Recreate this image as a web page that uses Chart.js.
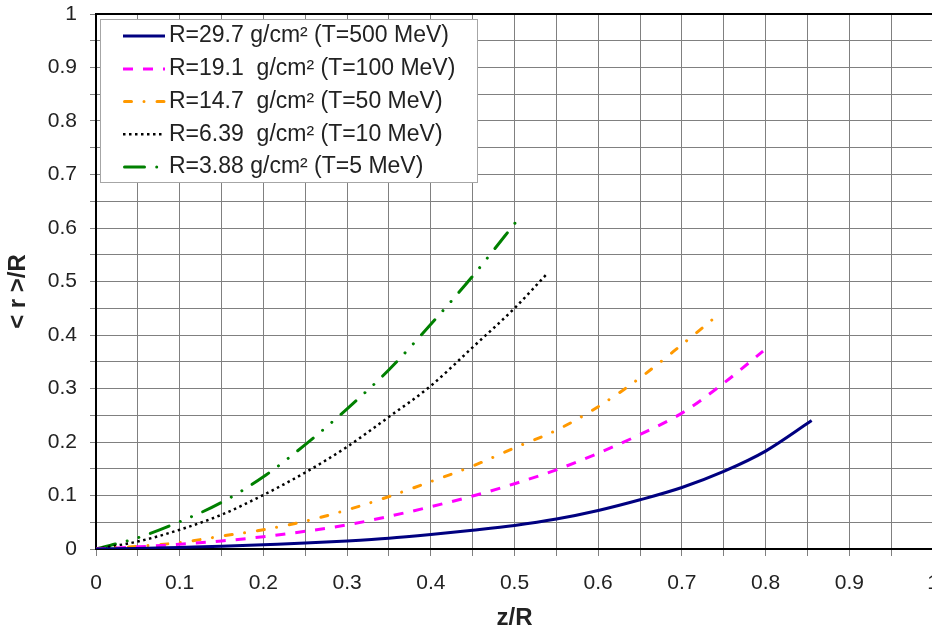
<!DOCTYPE html>
<html>
<head>
<meta charset="utf-8">
<script src="https://cdn.jsdelivr.net/npm/chart.js@4/dist/chart.umd.min.js"></script>
<style>
  html, body { margin: 0; padding: 0; background: #fff; overflow: hidden; }
  #wrap { width: 932px; height: 628px; overflow: hidden; }
</style>
</head>
<body>
<div id="wrap"><canvas id="c" width="950" height="628"></canvas></div>
<script>
// values
const seriesNames = [
  'R=29.7 g/cm\u00B2 (T=500 MeV)',
  'R=19.1  g/cm\u00B2 (T=100 MeV)',
  'R=14.7  g/cm\u00B2 (T=50 MeV)',
  'R=6.39  g/cm\u00B2 (T=10 MeV)',
  'R=3.88 g/cm\u00B2 (T=5 MeV)'
];
const zNavy = [0, 0.05, 0.1, 0.15, 0.2, 0.25, 0.3, 0.35, 0.4, 0.45, 0.5, 0.55, 0.6, 0.65, 0.7, 0.75, 0.8, 0.855];
const rNavy = [0, 0.001, 0.003, 0.005, 0.008, 0.011, 0.015, 0.02, 0.027, 0.035, 0.044, 0.056, 0.072, 0.092, 0.115, 0.145, 0.183, 0.24];
const zMagenta = [0, 0.05, 0.1, 0.15, 0.2, 0.25, 0.3, 0.35, 0.4, 0.45, 0.5, 0.55, 0.6, 0.65, 0.7, 0.75, 0.797];
const rMagenta = [0, 0.004, 0.009, 0.015, 0.023, 0.033, 0.045, 0.061, 0.079, 0.099, 0.122, 0.148, 0.179, 0.214, 0.254, 0.31, 0.37];
const zOrange = [0, 0.05, 0.1, 0.15, 0.2, 0.25, 0.3, 0.35, 0.4, 0.45, 0.5, 0.55, 0.6, 0.65, 0.7, 0.742];
const rOrange = [0, 0.005, 0.012, 0.024, 0.036, 0.052, 0.073, 0.098, 0.126, 0.155, 0.189, 0.222, 0.266, 0.32, 0.382, 0.436];
const zBlack = [0, 0.05, 0.1, 0.15, 0.2, 0.25, 0.3, 0.35, 0.4, 0.45, 0.5, 0.538];
const rBlack = [0, 0.014, 0.036, 0.064, 0.101, 0.143, 0.191, 0.247, 0.305, 0.377, 0.45, 0.513];
const zGreen = [0, 0.05, 0.1, 0.15, 0.2, 0.25, 0.3, 0.35, 0.4, 0.45, 0.5, 0.508];
const rGreen = [0, 0.021, 0.051, 0.087, 0.135, 0.195, 0.262, 0.335, 0.42, 0.51, 0.608, 0.624];
const axisMin = 0, axisMax = 1, gridStep = 0.05, labelStep = 0.1;

const FONT = "'Liberation Sans', Arial, sans-serif";
const pts = (zs, rs) => zs.map((z, i) => ({ x: z, y: rs[i] }));

const datasets = [
  { label: seriesNames[0], data: pts(zNavy, rNavy), borderColor: '#000080', borderWidth: 3, borderDash: [] },
  { label: seriesNames[1], data: pts(zMagenta, rMagenta), borderColor: '#ff00ff', borderWidth: 3, borderDash: [10, 10] },
  { label: seriesNames[2], data: pts(zOrange, rOrange), borderColor: '#ff9900', borderWidth: 3, borderDash: [7, 12.5, 0.01, 13], borderCapStyle: 'round' },
  { label: seriesNames[3], data: pts(zBlack, rBlack), borderColor: '#000000', borderWidth: 2.5, borderDash: [2.5, 3.5] },
  { label: seriesNames[4], data: pts(zGreen, rGreen), borderColor: '#008000', borderWidth: 3, borderDash: [20, 12.2, 0.01, 12.2, 0.01, 12.2], borderCapStyle: 'round' }
].map(d => Object.assign({ pointRadius: 0, fill: false, cubicInterpolationMode: 'monotone' }, d));

const tickLabel = v => {
  const k = Math.round(v / labelStep * 1000) / 1000;
  return Number.isInteger(k) ? String(parseFloat(v.toFixed(2))) : '';
};

// frame on top of plot area
const framePlugin = {
  id: 'frame',
  beforeDatasetsDraw(chart) {
    const { ctx, chartArea: a } = chart;
    ctx.save();
    ctx.strokeStyle = '#000';
    ctx.lineWidth = 2;
    ctx.beginPath();
    ctx.moveTo(a.left, a.top);
    ctx.lineTo(a.right, a.top);
    ctx.stroke();
    ctx.restore();
  }
};

// boxed legend in the upper-left of the plot
const legendPlugin = {
  id: 'boxLegend',
  afterDraw(chart) {
    const ctx = chart.ctx;
    ctx.save();
    ctx.fillStyle = '#fff';
    ctx.strokeStyle = '#a6a6a6';
    ctx.lineWidth = 1;
    ctx.fillRect(100.5, 19.5, 377, 163);
    ctx.strokeRect(100.5, 19.5, 377, 163);
    const rows = [36, 69, 101.5, 134.3, 167];
    chart.data.datasets.forEach((ds, i) => {
      const y = rows[i];
      ctx.strokeStyle = ds.borderColor;
      ctx.lineWidth = ds.borderWidth;
      ctx.lineCap = ds.borderCapStyle || 'butt';
      ctx.setLineDash(ds.borderDash);
      ctx.beginPath();
      const x0 = ds.borderCapStyle === 'round' ? 124.5 : 123;
      ctx.moveTo(x0, y);
      ctx.lineTo(165, y);
      ctx.stroke();
      ctx.setLineDash([]);
      ctx.fillStyle = '#222';
      ctx.font = '23px ' + FONT;
      ctx.textBaseline = 'middle';
      ctx.textAlign = 'left';
      ctx.fillText(ds.label, 169, y);
    });
    ctx.restore();
  }
};

new Chart(document.getElementById('c'), {
  type: 'line',
  data: { datasets },
  plugins: [framePlugin, legendPlugin],
  options: {
    responsive: false,
    animation: false,
    devicePixelRatio: 1,
    layout: { padding: { top: 14, right: 17, left: 0, bottom: 0 } },
    plugins: { legend: { display: false }, tooltip: { enabled: false } },
    scales: {
      x: {
        type: 'linear', min: axisMin, max: axisMax,
        afterFit: s => { s.height = 79; s.paddingLeft = 0; s.paddingRight = 17; },
        ticks: { stepSize: gridStep, autoSkip: false, maxRotation: 0, callback: tickLabel, padding: 15,
                 color: '#222', font: { family: FONT, size: 21 } },
        grid: { color: '#808080', lineWidth: 1, tickLength: 7 },
        border: { color: '#000', width: 2 },
        title: { display: true, text: 'z/R', color: '#222', padding: { top: 0, bottom: -2 },
                 font: { family: FONT, size: 24, weight: 'bold', lineHeight: 1 } }
      },
      y: {
        min: axisMin, max: axisMax,
        afterFit: s => { s.width = 96; s.paddingTop = 14; s.paddingBottom = 0; },
        ticks: { stepSize: gridStep, autoSkip: false, callback: tickLabel, padding: 13,
                 color: '#222', font: { family: FONT, size: 21 } },
        grid: { color: '#808080', lineWidth: 1, tickLength: 6 },
        border: { color: '#000', width: 2 },
        title: { display: true, text: '< r >/R   ', color: '#222', padding: { top: 6, bottom: 0 },
                 font: { family: FONT, size: 24, weight: 'bold', lineHeight: 1 } }
      }
    }
  }
});
</script>
</body>
</html>
